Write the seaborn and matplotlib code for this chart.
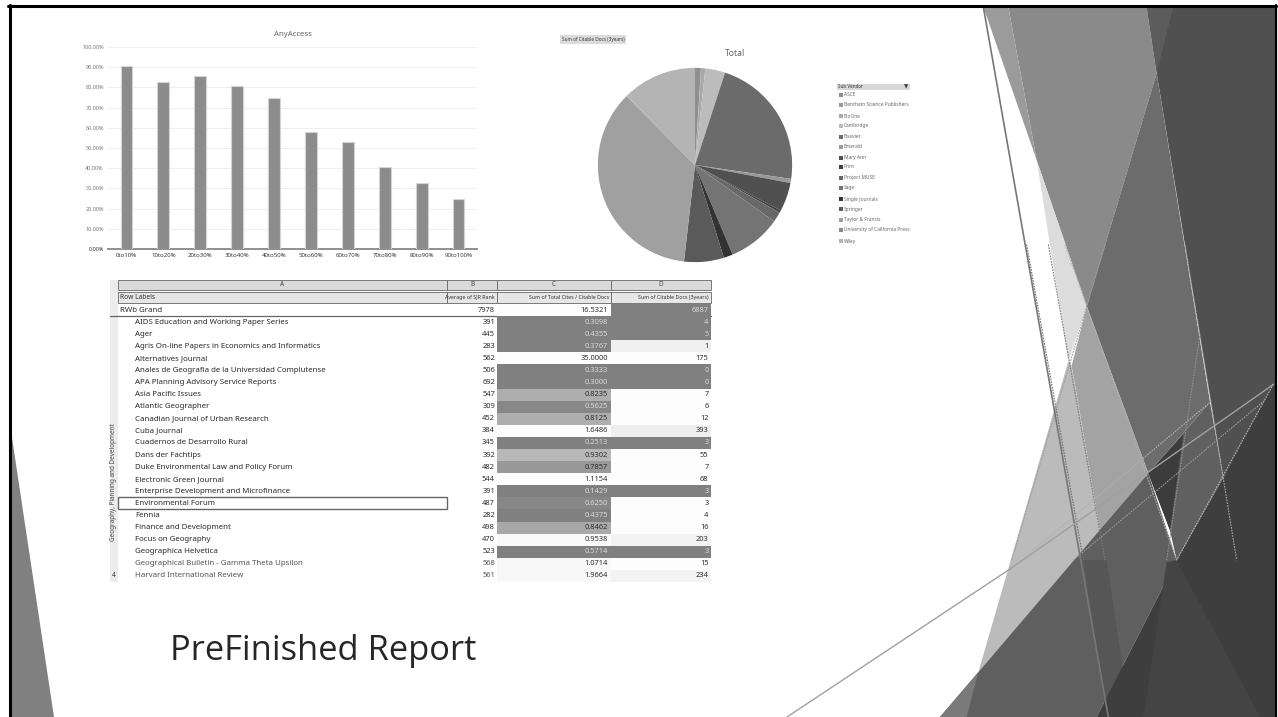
#!/usr/bin/env python3

"""
Slide with an AnyAccess bar chart, a vendor pie, a journal table and the angular slide decoration.
"""

import matplotlib
matplotlib.use("Agg")
import matplotlib.pyplot as plt
import pandas as pd
import seaborn as sns
from matplotlib.patches import Polygon, Rectangle

W, H = 1278, 717

# BAR CHART DATA
bar_labels = ["0to10%", "10to20%", "20to30%", "30to40%", "40to50%",
              "50to60%", "60to70%", "70to80%", "80to90%", "90to100%"]
bar_values = [90.5, 82.5, 85.7, 80.8, 75.0, 57.7, 52.9, 40.6, 32.9, 24.8]
bar_ticks = [0, 10, 20, 30, 40, 50, 60, 70, 80, 90, 100]

# PIE DATA
vendors = ["ASCE", "Bentham Science Publishers", "BioOne", "Cambridge", "Elsevier", "Emerald",
           "Mary Ann", "Print", "Project MUSE", "Sage", "Single Journals", "Springer",
           "Taylor & Francis", "University of California Press", "Wiley"]
vendor_share = [0.97, 0.06, 0.67, 3.31, 22.28, 0.69, 4.81, 0.36, 1.69, 8.83, 1.53, 6.61, 35.69, 0.08, 12.42]
vendor_grey = ["#8f8f8f", "#9a9a9a", "#a8a8a8", "#bcbcbc", "#6b6b6b", "#999999", "#505050", "#404040",
               "#686868", "#747474", "#333333", "#5a5a5a", "#a0a0a0", "#8a8a8a", "#b4b4b4"]

# TABLE DATA
journals = ["AIDS Education and Working Paper Series", "Ager",
            "Agris On-line Papers in Economics and Informatics", "Alternatives Journal",
            "Anales de Geografia de la Universidad Complutense", "APA Planning Advisory Service Reports",
            "Asia Pacific Issues", "Atlantic Geographer", "Canadian Journal of Urban Research",
            "Cuba Journal", "Cuadernos de Desarrollo Rural", "Dans der Fachtips",
            "Duke Environmental Law and Policy Forum", "Electronic Green Journal",
            "Enterprise Development and Microfinance", "Environmental Forum", "Fennia",
            "Finance and Development", "Focus on Geography", "Geographica Helvetica",
            "Geographical Bulletin - Gamma Theta Upsilon", "Harvard International Review"]
col_b = ["7978", "391", "445", "283", "562", "506", "692", "547", "309", "452", "384", "345",
         "392", "482", "544", "391", "487", "282", "498", "470", "523", "568", "561"]
col_c = ["16.5321", "0.3098", "0.4355", "0.3767", "35.0000", "0.3333", "0.3000", "0.8235", "0.5625",
         "0.8125", "1.6486", "0.2513", "0.9302", "0.7857", "1.1154", "0.1429", "0.6250", "0.4375",
         "0.8462", "0.9538", "0.5714", "1.0714", "1.9664"]
col_d = ["6887", "4", "5", "1", "175", "0", "0", "7", "6", "12", "393", "3", "55", "7", "68", "3", "3",
         "4", "16", "203", "3", "15", "234"]
fill_c = [.99, .5, .5, .5, .99, .5, .5, .68, .53, .68, .99, .5, .72, .6, .99, .5, .53, .5, .66, .98, .5, .97, .97]
fill_d = [.5, .5, .5, .94, .99, .5, .5, .99, .99, .99, .93, .5, .99, .99, .99, .5, .99, .99, .99, .95, .5, .99, .95]
col_headers = ["A", "B", "C", "D"]
head_labels = ["Row Labels", "Average of SJR Rank", "Sum of Total Cites / Citable Docs", "Sum of Citable Docs (3years)"]

sns.set_theme(style="white")
plt.rcParams["font.family"] = ["Noto Sans", "DejaVu Sans"]

fig = plt.figure(figsize=(W / 100, H / 100), dpi=100, facecolor="white")

def px_axes(x0, y0, x1, y1, **kw):
    # axes placed by pixel box, y counted from the top
    return fig.add_axes([x0 / W, 1 - y1 / H, (x1 - x0) / W, (y1 - y0) / H], **kw)

bg = px_axes(0, 0, W, H)
bg.set_xlim(0, W)
bg.set_ylim(H, 0)
bg.axis("off")

def z(pts):
    return [(940 + x / 3, y * H / 1568) for x, y in pts]

# SLIDE DECORATION
shapes = [
    ([(620, 15), (1005, 15), (1005, 850), (850, 1045), (650, 160)], "#505050"),
    ([(620, 15), (700, 15), (650, 160)], "#5c5c5c"),
    ([(205, 15), (620, 15), (650, 160), (440, 670), (290, 350)], "#8a8a8a"),
    ([(130, 15), (205, 15), (290, 350)], "#9b9b9b"),
    ([(650, 160), (810, 880), (625, 1035), (440, 670)], "#6c6c6c"),
    ([(290, 350), (440, 670), (385, 790)], "#dcdcdc"),
    ([(440, 670), (625, 1035), (480, 1160), (395, 800)], "#a3a3a3"),
    ([(385, 790), (395, 800), (480, 1160), (115, 1470)], "#bbbbbb"),
    ([(625, 1035), (810, 880), (850, 1045), (710, 1225), (690, 1160)], "#606060"),
    ([(625, 1035), (730, 950), (690, 1160)], "#3c3c3c"),
    ([(0, 1568), (625, 1035), (710, 1225), (470, 1568)], "#5f5f5f"),
    ([(0, 1568), (80, 1568), (115, 1470)], "#7a7a7a"),
    ([(430, 1225), (500, 1568), (570, 1568), (500, 1225)], "#565656"),
    ([(470, 1568), (710, 1225), (850, 1045), (1005, 835), (1005, 1568)], "#3e3e3e"),
    ([(610, 1568), (680, 1230), (710, 1225), (960, 1568)], "#444444"),
]
for pts, colour in shapes:
    bg.add_patch(Polygon(z(pts), closed=True, facecolor=colour, edgecolor="none"))
bg.add_patch(Polygon([(11, 431), (54, 717), (11, 717)], closed=True, facecolor="#808080", edgecolor="none"))

# dithered edges that run across the shapes
speckle = [((260, 535), (430, 1225), "#6e6e6e"), ((325, 535), (495, 1225), "#7a7a7a"),
           ((375, 535), (710, 1225), "#b0b0b0"), ((495, 535), (215, 1225), "#9a9a9a"),
           ((735, 535), (890, 1225), "#a8a8a8"), ((1000, 840), (710, 1225), "#b0b0b0"),
           ((400, 1225), (975, 875), "#9a9a9a"), ((245, 1225), (810, 880), "#b0b0b0"),
           ((680, 1225), (780, 730), "#909090")]
for a, b, colour in speckle:
    (xa, ya), (xb, yb) = z([a, b])
    bg.plot([xa, xb], [ya, yb], color=colour, lw=0.8, ls=(0, (1.5, 1)))
(xa, ya), (xb, yb) = z([(130, 15), (505, 1568)])
bg.plot([xa, xb], [ya, yb], color="#777777", lw=1.2)
bg.plot([787, 1010, 1274], [717, 569, 384], color="#a0a0a0", lw=1.0)

# slide border
bg.plot([9.5, 9.5], [5, H], color="black", lw=2.2)
bg.plot([8, 1275.5], [5.5, 5.5], color="black", lw=2.2)
bg.plot([1275.5, 1275.5], [5, H], color="black", lw=1.6)

bg.text(170, 651.5, "PreFinished Report", fontsize=24.8, color="#262626", va="center", family="Open Sans")

# BAR CHART
ax_bar = px_axes(108, 47, 477, 249, facecolor="none")
sns.barplot(x=bar_labels, y=bar_values, color="#8c8c8c", saturation=1, width=0.32,
            edgecolor="#d4d4d4", linewidth=0.8, ax=ax_bar, zorder=3)
ax_bar.set_ylim(0, 100)
ax_bar.set_yticks(bar_ticks)
ax_bar.set_yticklabels([f"{t:.2f}%" for t in bar_ticks], fontsize=3.9, color="#777777")
ax_bar.get_yticklabels()[0].set_color("#333333")
ax_bar.tick_params(axis="x", labelsize=4.4, labelcolor="#3a3a3a", length=0, pad=3)
ax_bar.tick_params(axis="y", length=0, pad=3)
ax_bar.grid(axis="y", color="#efefef", lw=0.8)
ax_bar.set_axisbelow(True)
sns.despine(ax=ax_bar, left=True)
ax_bar.spines["bottom"].set_color("#8f8f8f")
ax_bar.spines["bottom"].set_linewidth(1.4)
bg.text(293, 35, "AnyAccess", fontsize=5.6, color="#666666", ha="center", va="center")

# PIE
ax_pie = px_axes(593, 63, 797, 267, facecolor="none")
ax_pie.pie(vendor_share, colors=vendor_grey, startangle=90, counterclock=False, radius=1.0,
           wedgeprops={"linewidth": 0})
ax_pie.set_xlim(-1.05, 1.05)
ax_pie.set_ylim(-1.05, 1.05)
bg.text(735, 53, "Total", fontsize=6.2, color="#666666", ha="center", va="center")
bg.add_patch(Rectangle((560, 34.5), 66, 9, facecolor="#dcdcdc", edgecolor="none"))
bg.text(593, 39, "Sum of Citable Docs (3years)", fontsize=3.4, color="#333333", ha="center", va="center")

# PIE LEGEND
legend_y = [95, 105, 116, 126, 137, 147, 158, 167, 178, 188, 199, 209, 220, 230, 241]
bg.add_patch(Rectangle((837, 83.5), 73, 6, facecolor="#d8d8d8", edgecolor="none"))
bg.text(838, 86.5, "Sub Vendor", fontsize=3.3, color="#333333", va="center")
bg.text(906, 86.5, "▼", fontsize=4, color="#444444", ha="center", va="center", family="DejaVu Sans")
for name, colour, y in zip(vendors, vendor_grey, legend_y):
    bg.plot(841, y, "s", ms=2.4, color=colour, mew=0)
    bg.text(844, y, name, fontsize=3.5, color="#666666", va="center")

# TABLE
x_cols = [118, 447, 497, 611, 711]
rows_top, rows_bottom = 304, 582
bg.add_patch(Rectangle((110, 280), 8, rows_bottom - 280, facecolor="#ececec", edgecolor="none"))
for i, letter in enumerate(col_headers):
    bg.add_patch(Rectangle((x_cols[i], 280), x_cols[i + 1] - x_cols[i], 9.5, facecolor="#dadada",
                           edgecolor="#666666", lw=0.6))
    bg.text((x_cols[i] + x_cols[i + 1]) / 2, 285, letter, fontsize=4.6, color="#444444", ha="center", va="center")
    bg.add_patch(Rectangle((x_cols[i], 292), x_cols[i + 1] - x_cols[i], 10.5, facecolor="#e6e6e6",
                           edgecolor="#666666", lw=0.6))
bg.text(120, 297.5, head_labels[0], fontsize=4.8, color="#333333", va="center")
bg.text(495, 297.5, head_labels[1], fontsize=3.8, color="#333333", ha="right", va="center")
bg.text(609, 297.5, head_labels[2], fontsize=3.8, color="#333333", ha="right", va="center")
bg.text(709, 297.5, head_labels[3], fontsize=3.8, color="#333333", ha="right", va="center")
bg.plot([110, 711], [315.5, 315.5], color="#666666", lw=0.9)
bg.text(113.5, 482, "Geography, Planning and Development", fontsize=4.6, color="#444444", rotation=90,
        ha="center", va="center")

row_names = ["RWb Grand"] + journals
row_h = (rows_bottom - rows_top) / len(row_names)
for i, name in enumerate(row_names):
    y = rows_top + row_h * (i + 0.5)
    shade = "#555555" if i >= 21 else "#2b2b2b"
    bg.text(120 if i == 0 else 135, y, name, fontsize=5.7, color=shade, va="center")
    bg.text(495, y, col_b[i], fontsize=5.4, color=shade, ha="right", va="center")
bg.text(114, rows_top + row_h * 22.5, "4", fontsize=4.6, color="#333333", ha="center", va="center")

# shaded value columns, cell colour is the grey level
for fills, labels, x0, x1 in [(fill_c, col_c, 497, 611), (fill_d, col_d, 611, 711)]:
    ax_col = px_axes(x0, rows_top, x1, rows_bottom, facecolor="none")
    sns.heatmap(pd.DataFrame({"v": fills}), cmap="gray", vmin=0, vmax=1, cbar=False,
                xticklabels=False, yticklabels=False, ax=ax_col)
    for i, label in enumerate(labels):
        shade = "#d8d8d8" if fills[i] < 0.55 else "#2f2f2f"
        ax_col.text(0.975, i + 0.5, label, fontsize=5.4, color=shade, ha="right", va="center")

# the selected row
y_sel = rows_top + row_h * 16
bg.add_patch(Rectangle((118, y_sel), 329, row_h, facecolor="none", edgecolor="#666666", lw=1.0))

fig.savefig("out.png", dpi=100)
